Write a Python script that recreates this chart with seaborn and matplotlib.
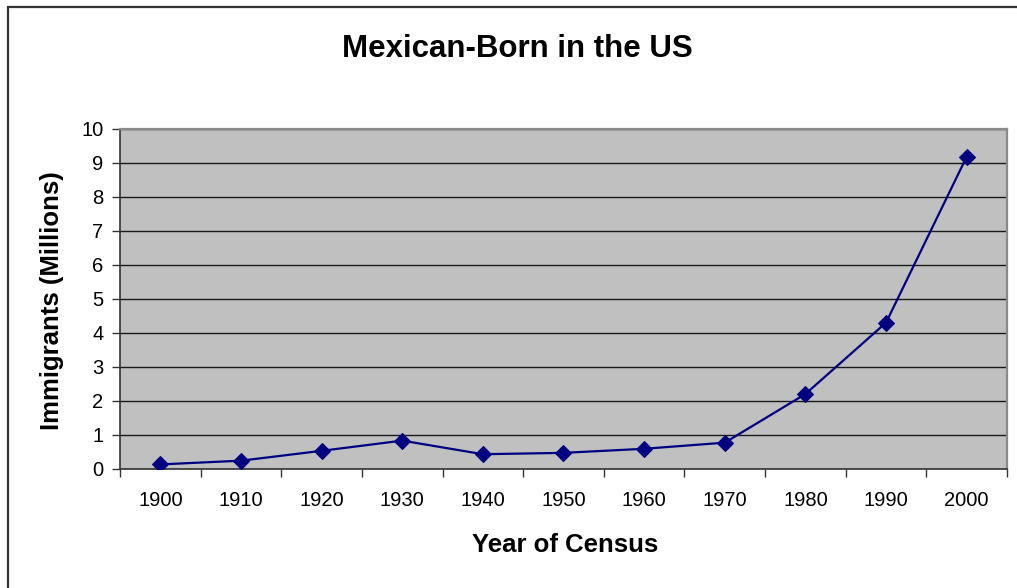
import matplotlib
matplotlib.use("Agg")
import matplotlib.pyplot as plt
from matplotlib.patches import Rectangle
from matplotlib.ticker import FixedLocator
import numpy as np
import pandas as pd
import seaborn as sns

# Census years and Mexican-born population (millions)
years = [1900, 1910, 1920, 1930, 1940, 1950, 1960, 1970, 1980, 1990, 2000]
immigrants = [0.12, 0.23, 0.52, 0.82, 0.42, 0.46, 0.58, 0.76, 2.19, 4.29, 9.17]
y_ticks = [0, 1, 2, 3, 4, 5, 6, 7, 8, 9, 10]

title = "Mexican-Born in the US"
x_label = "Year of Census"
y_label = "Immigrants (Millions)"

df = pd.DataFrame({"year": years, "immigrants": immigrants})

sns.set_theme(style="white")
plt.rcParams["font.family"] = ["Liberation Sans", "DejaVu Sans"]
plt.rcParams["text.color"] = "black"
plt.rcParams["xtick.color"] = "black"
plt.rcParams["ytick.color"] = "black"

fig = plt.figure(figsize=(10.17, 5.88), dpi=100)
W, H = 1017, 588
ax = fig.add_axes([120 / W, 1 - 468.5 / H, (1007 - 120) / W, (468.5 - 128.5) / H])

# chart frame around the whole figure
fig.patches.append(Rectangle((8 / W, -0.05), 1.1, 1 - 6.5 / H + 0.05,
                             transform=fig.transFigure, fill=False,
                             edgecolor="#333333", linewidth=1.6, zorder=0))

ax.set_facecolor("#C0C0C0")
ax.set_axisbelow(True)

sns.lineplot(data=df, x="year", y="immigrants", ax=ax, color="#000080",
             linewidth=1.6, marker="D", markersize=8, markeredgecolor="#000080",
             zorder=3)

ax.set_xlim(1895, 2005)
ax.set_ylim(0, 10)

# y axis ticks and horizontal gridlines
ax.set_yticks(y_ticks)
ax.set_yticklabels([str(v) for v in y_ticks])
ax.yaxis.grid(True, color="#1a1a1a", linewidth=1.0)
ax.xaxis.grid(False)

# x axis: labels at category centers, tick marks between categories
ax.set_xticks(years)
ax.set_xticklabels([str(y) for y in years])
ax.xaxis.set_minor_locator(FixedLocator([y - 5 for y in years] + [2005]))
ax.tick_params(axis="x", which="major", length=0, pad=16, labelsize=14.5, labelcolor="black")
ax.tick_params(axis="x", which="minor", length=6, width=1.0, direction="out",
               bottom=True, color="#333333")
ax.tick_params(axis="y", which="major", length=6, width=1.0, direction="out",
               left=True, pad=6, labelsize=14.5, labelcolor="black", color="#333333")

for side in ["left", "bottom"]:
    ax.spines[side].set_color("#333333")
    ax.spines[side].set_linewidth(1.2)
for side in ["top", "right"]:
    ax.spines[side].set_color("#8a8a8a")
    ax.spines[side].set_linewidth(1.6)

ax.set_xlabel("")
ax.set_ylabel("")
fig.text(517 / W, 1 - 49 / H, title, ha="center", va="center",
         fontsize=22.5, fontweight="bold", color="black")
fig.text(565 / W, 1 - 545 / H, x_label, ha="center", va="center",
         fontsize=18.5, fontweight="bold", color="black")
fig.text(52 / W, 1 - 301 / H, y_label, ha="center", va="center",
         rotation=90, fontsize=18.5, fontweight="bold", color="black")

fig.savefig("out.png", dpi=100, facecolor="white")
